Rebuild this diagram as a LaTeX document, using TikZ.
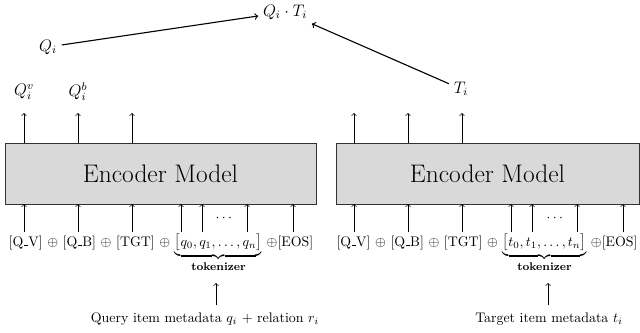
\documentclass[tikz,border=0pt]{standalone}
\usepackage{amsmath}
\usetikzlibrary{fit}
\newcommand\usc{\kern.06em\vbox{\hrule width.3em}}
\begin{document}
\begin{tikzpicture}[x=0.72pt,y=-0.72pt]
\tikzset{
  encbox/.style={draw=black!80, fill=black!15, inner sep=0pt, line width=0.6pt},
  enctext/.style={font=\fontsize{18.3}{22}\selectfont},
  arr/.style={->, line width=0.5pt},
  bigarr/.style={->, line width=0.8pt},
  toplbl/.style={font=\large},
  rowtext/.style={anchor=base, inner sep=0pt},
}
\useasboundingbox (0,0) rectangle (640,332);

% encoder boxes
\node[encbox, fit={(5,143)(316,204)}] (encL) {};
\node[enctext] (encLt) at (encL.center) {Encoder Model};
\node[encbox, fit={(336,143)(639,204)}] (encR) {};
\node[enctext] (encRt) at (encR.center) {Encoder Model};

% top labels
\node[toplbl] (Qi) at (48,47) {$Q_i$};
\node[toplbl] (QT) at (285,12) {$Q_i \cdot T_i$};
\node[toplbl] (Ti) at (461,89) {$T_i$};
\node[toplbl] (Qv) at (24,92) {$Q_i^v$};
\node[toplbl] (Qb) at (78,92) {$Q_i^b$};
\draw[bigarr] (Qi) -- (QT);
\draw[bigarr] (Ti) -- (QT);

% output arrows
\foreach \x in {24,78,132} { \draw[arr] (\x,143) -- (\x,113); }
\foreach \x in {354,408,462} { \draw[arr] (\x,143) -- (\x,113); }

% input rows
\node[rowtext] (rowL) at (161,246) {[Q\usc V] $\oplus$ [Q\usc B] $\oplus$ [TGT] $\oplus$ $\underbrace{\bigl[q_0, q_1, \ldots, q_n\bigr]}_{\text{\footnotesize\bfseries tokenizer}}$ $\oplus$[EOS]};
\node[rowtext] (rowR) at (487,246) {[Q\usc V] $\oplus$ [Q\usc B] $\oplus$ [TGT] $\oplus$ $\underbrace{\bigl[t_0, t_1, \ldots, t_n\bigr]}_{\text{\footnotesize\bfseries tokenizer}}$ $\oplus$[EOS]};

\foreach \x in {24,78,132,181,202,247,293} { \draw[arr] (\x,232) -- (\x,204); }
\foreach \x in {354,408,462,511,532,577,623} { \draw[arr] (\x,232) -- (\x,204); }
\node (dotsL) at (225,218) {$\cdots$};
\node (dotsR) at (556,218) {$\cdots$};

% metadata
\node[rowtext] (metaL) at (205,322) {Query item metadata $q_i$ + relation $r_i$};
\node[rowtext] (metaR) at (549,322) {Target item metadata $t_i$};
\draw[arr] (216,305) -- (216,283);
\draw[arr] (548,305) -- (548,283);
\end{tikzpicture}
\end{document}
